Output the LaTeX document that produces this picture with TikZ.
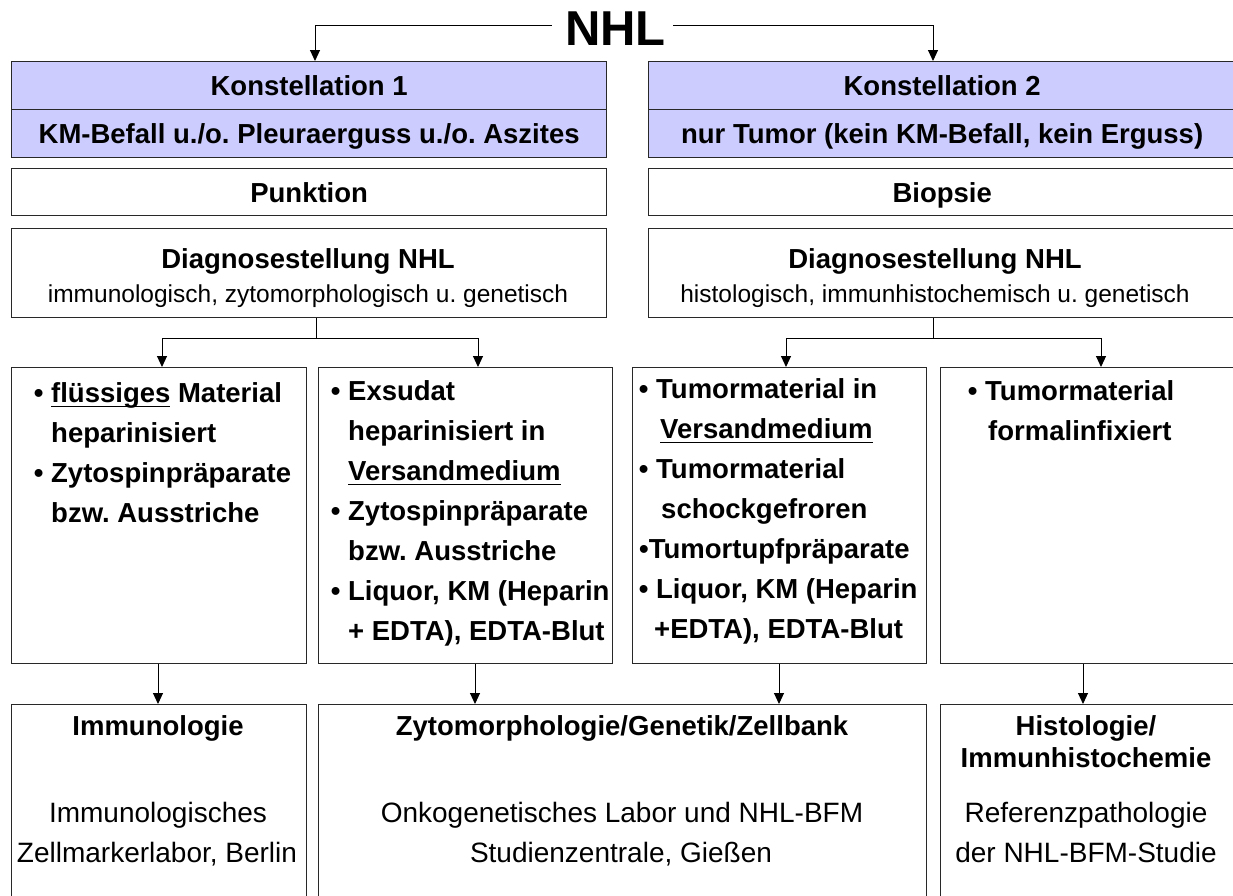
\documentclass[tikz,border=0pt]{standalone}
\usepackage{fontspec}
\setmainfont{Liberation Sans}
\usetikzlibrary{arrows.meta}
\definecolor{lav}{RGB}{204,204,255}
\definecolor{edge}{RGB}{40,40,40}
\newcommand\myul[1]{\vtop{\hbox{\raisebox{0pt}[\height][0pt]{#1}}\kern3.5pt\hrule height 1.8pt}}
\frenchspacing
\begin{document}
\begin{tikzpicture}[x=1pt,y=-1pt,
  box/.style={draw=edge, line width=1.3pt, inner sep=0pt, anchor=north west},
  kbox/.style={box, fill=lav},
  hd/.style={font=\fontsize{27.5}{33}\selectfont\bfseries, inner sep=0pt},
  capc/.style={text height=19.7pt, text depth=0pt},
  sub/.style={font=\fontsize{24.5}{30}\selectfont, inner sep=0pt},
  bt/.style={font=\fontsize{28}{34}\selectfont, inner sep=0pt},
  ln/.style={line width=1pt},
  arr/.style={line width=1pt, -{Triangle[length=11pt,width=10pt]}}]
\useasboundingbox (0,0) rectangle (1233,895);
\fill[white] (0,0) rectangle (1233,895);
% title
\node[font=\fontsize{49}{52}\selectfont\bfseries, inner xsep=5pt, inner ysep=0pt, anchor=base] (nhl) at (615.5,45) {NHL};
% constellation boxes
\node[kbox, minimum width=595pt, minimum height=48pt, hd, capc] (k1) at (11,61) {Konstellation 1};
\node[kbox, minimum width=595pt, minimum height=48pt, hd, capc] (k1b) at (11,109) {KM-Befall u./o. Pleuraerguss u./o. Aszites};
\node[kbox, minimum width=587pt, minimum height=48pt, hd, capc] (k2) at (648,61) {Konstellation 2};
\node[kbox, minimum width=587pt, minimum height=48pt, hd, capc] (k2b) at (648,109) {nur Tumor (kein KM-Befall, kein Erguss)};
\node[box, minimum width=595pt, minimum height=47pt, hd, capc] (pk) at (11,168) {Punktion};
\node[box, minimum width=587pt, minimum height=47pt, hd, capc] (bp) at (648,168) {Biopsie};
% diagnosis boxes
\node[box, minimum width=595pt, minimum height=89pt] (dl) at (11,228) {};
\node[box, minimum width=587pt, minimum height=89pt] (dr) at (648,228) {};
\node[hd, anchor=base] (dlt) at (308,268) {Diagnosestellung NHL};
\node[sub, anchor=base] (dls) at (308,302) {immunologisch, zytomorphologisch u. genetisch};
\node[hd, anchor=base] (drt) at (935,268) {Diagnosestellung NHL};
\node[sub, anchor=base] (drs) at (935,302) {histologisch, immunhistochemisch u. genetisch};
% material boxes
\node[box, minimum width=295pt, minimum height=296pt] (ba) at (11,367) {};
\node[box, minimum width=294pt, minimum height=296pt] (bb) at (318,367) {};
\node[box, minimum width=294pt, minimum height=296pt] (bc) at (632,367) {};
\node[box, minimum width=295pt, minimum height=296pt] (bd) at (940,367) {};
% box A text
\node[hd, anchor=base west] (a1) at (51,402) {\llap{•\ }\myul{flüssiges} Material};
\node[hd, anchor=base west] (a2) at (51,442) {heparinisiert};
\node[hd, anchor=base west] (a3) at (51,482) {\llap{•\ }Zytospinpräparate};
\node[hd, anchor=base west] (a4) at (51,522) {bzw. Ausstriche};
% box B text
\node[hd, anchor=base west] (b1) at (348,400) {\llap{•\ }Exsudat};
\node[hd, anchor=base west] (b2) at (348,440) {heparinisiert in};
\node[hd, anchor=base west] (b3) at (348,480) {\myul{Versandmedium}};
\node[hd, anchor=base west] (b4) at (348,520) {\llap{•\ }Zytospinpräparate};
\node[hd, anchor=base west] (b5) at (348,560) {bzw. Ausstriche};
\node[hd, anchor=base west] (b6) at (348,600) {\llap{•\ }Liquor, KM (Heparin};
\node[hd, anchor=base west] (b7) at (348,640) {+ EDTA), EDTA-Blut};
% box C text
\node[hd, anchor=base west] (c1) at (656,398) {\llap{•\ }Tumormaterial in};
\node[hd, anchor=base west] (c2) at (660,438) {\myul{Versandmedium}};
\node[hd, anchor=base west] (c3) at (656,478) {\llap{•\ }Tumormaterial};
\node[hd, anchor=base west] (c4) at (661,518) {schockgefroren};
\node[hd, anchor=base west] (c5) at (639,558) {•Tumortupfpräparate};
\node[hd, anchor=base west] (c6) at (656,598) {\llap{•\ }Liquor, KM (Heparin};
\node[hd, anchor=base west] (c7) at (654,638) {+EDTA), EDTA-Blut};
% box D text
\node[hd, anchor=base west] (d1) at (985,400) {\llap{•\ }Tumormaterial};
\node[hd, anchor=base west] (d2) at (988,440) {formalinfixiert};
% lab boxes
\node[box, minimum width=295pt, minimum height=195pt] (la) at (11,704) {};
\node[box, minimum width=608pt, minimum height=195pt] (lb) at (318,704) {};
\node[box, minimum width=295pt, minimum height=195pt] (lc) at (940,704) {};
\node[hd, anchor=base] (la1) at (158,735) {Immunologie};
\node[bt, anchor=base] (la2) at (158,822) {Immunologisches};
\node[bt, anchor=base] (la3) at (157,862) {Zellmarkerlabor, Berlin};
\node[hd, anchor=base] (lb1) at (622,735) {Zytomorphologie/Genetik/Zellbank};
\node[bt, anchor=base] (lb2) at (622,822) {Onkogenetisches Labor und NHL-BFM};
\node[bt, anchor=base] (lb3) at (621,862) {Studienzentrale, Gießen};
\node[hd, anchor=base] (lc1) at (1086,735) {Histologie/};
\node[hd, anchor=base] (lc2) at (1086,767) {Immunhistochemie};
\node[bt, anchor=base] (lc3) at (1086,822) {Referenzpathologie};
\node[bt, anchor=base] (lc4) at (1086,862) {der NHL-BFM-Studie};
% connector coordinates
\coordinate (xk1) at (315,0);
\coordinate (xk2) at (933,0);
\coordinate (jl) at (316,338);
\coordinate (jr) at (933,338);
\coordinate (xa) at (162,0);
\coordinate (xb) at (478,0);
\coordinate (xc) at (786,0);
\coordinate (xd) at (1101,0);
\coordinate (ya) at (158,0);
\coordinate (yb) at (475,0);
\coordinate (yc) at (779,0);
\coordinate (yd) at (1083,0);
% connectors
\draw[arr] ([xshift=-8pt,yshift=3pt]nhl.west) -| (k1.north -| xk1);
\draw[arr] ([xshift=2pt,yshift=3pt]nhl.east) -| (k2.north -| xk2);
\draw[ln] (dl.south -| jl) -- (jl);
\draw[arr] (jl) -| (ba.north -| xa);
\draw[arr] (jl) -| (bb.north -| xb);
\draw[ln] (dr.south -| jr) -- (jr);
\draw[arr] (jr) -| (bc.north -| xc);
\draw[arr] (jr) -| (bd.north -| xd);
\draw[arr] (ba.south -| ya) -- (la.north -| ya);
\draw[arr] (bb.south -| yb) -- (lb.north -| yb);
\draw[arr] (bc.south -| yc) -- (lb.north -| yc);
\draw[arr] (bd.south -| yd) -- (lc.north -| yd);
\end{tikzpicture}
\end{document}
